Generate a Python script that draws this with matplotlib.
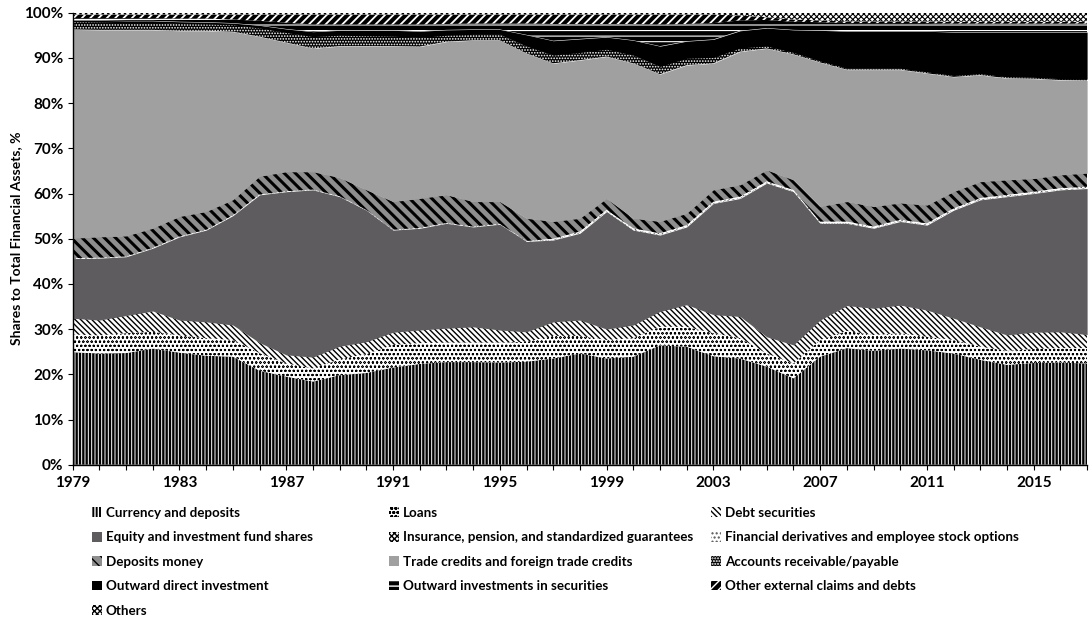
import numpy as np
import matplotlib
matplotlib.use("Agg")
import matplotlib.pyplot as plt
import matplotlib.patches as mpatches

plt.rcParams["font.family"] = ["Lato", "DejaVu Sans"]
plt.rcParams["font.weight"] = "bold"

years = list(range(1979, 2018))
tick_years = list(range(1979, 2016, 4))

# shares in % of total financial assets
currency = [24.9, 24.6, 24.7, 25.7, 24.8, 24.1, 23.9, 20.8, 19.5, 18.4,
            19.8, 20.3, 21.5, 22.3, 22.7, 22.7, 22.6, 22.8, 23.5, 24.6,
            23.5, 23.9, 26.4, 26.1, 24.0, 23.5, 21.7, 19.1, 23.9, 25.8,
            25.2, 25.7, 25.3, 24.6, 23.2, 22.1, 22.5, 22.6, 22.4]
loans = [3.9, 4.0, 4.4, 3.7, 3.8, 3.9, 3.7, 3.9, 2.9, 2.9,
         3.5, 4.2, 5.0, 4.6, 4.3, 4.3, 4.4, 4.4, 5.0, 3.9,
         4.1, 4.1, 4.1, 4.4, 5.1, 4.5, 2.9, 3.3, 3.7, 3.8,
         3.5, 3.4, 3.0, 3.0, 2.9, 3.1, 3.1, 3.2, 3.4]
debt = [3.6, 3.4, 3.9, 4.6, 3.4, 3.6, 3.3, 2.3, 1.9, 2.5,
        2.9, 2.7, 2.8, 2.9, 3.2, 3.5, 2.8, 2.2, 3.1, 3.5,
        2.4, 2.9, 3.4, 4.9, 4.1, 4.8, 3.7, 4.1, 4.4, 5.6,
        5.9, 6.2, 5.9, 4.8, 4.4, 3.5, 3.7, 3.6, 3.0]
equity = [13.2, 13.7, 13.0, 13.9, 18.4, 20.3, 24.2, 32.7, 36.1, 37.0,
          33.1, 29.1, 22.6, 22.5, 23.2, 22.1, 23.4, 20.0, 18.1, 19.2,
          26.0, 21.0, 16.9, 17.2, 24.6, 26.1, 34.0, 33.9, 21.4, 18.2,
          17.7, 18.5, 18.8, 23.9, 28.1, 30.6, 30.7, 31.4, 32.3]
insurance = [0.1, 0.1, 0.1, 0.1, 0.1, 0.1, 0.1, 0.1, 0.1, 0.1,
             0.1, 0.1, 0.1, 0.1, 0.1, 0.1, 0.1, 0.1, 0.1, 0.1,
             0.1, 0.1, 0.1, 0.1, 0.1, 0.1, 0.1, 0.1, 0.1, 0.1,
             0.1, 0.1, 0.1, 0.1, 0.1, 0.1, 0.1, 0.1, 0.1]
derivatives = [0.0, 0.0, 0.0, 0.0, 0.0, 0.0, 0.0, 0.0, 0.0, 0.0,
               0.0, 0.0, 0.0, 0.0, 0.0, 0.0, 0.0, 0.0, 0.2, 0.3,
               0.3, 0.3, 0.3, 0.3, 0.3, 0.3, 0.3, 0.3, 0.3, 0.3,
               0.3, 0.3, 0.3, 0.3, 0.3, 0.3, 0.3, 0.3, 0.3]
deposits_money = [4.4, 4.6, 4.5, 4.3, 4.4, 4.0, 3.4, 4.0, 4.3, 3.9,
                  4.1, 4.4, 6.2, 6.5, 6.2, 5.5, 4.9, 5.0, 3.8, 2.9,
                  2.5, 2.2, 2.6, 2.6, 2.6, 2.6, 2.5, 2.2, 3.3, 4.4,
                  4.4, 3.7, 4.0, 3.7, 3.6, 3.3, 2.9, 2.9, 3.0]
trade_credits = [46.2, 45.8, 45.6, 43.9, 41.1, 40.0, 37.2, 30.9, 28.6, 27.3,
                 29.1, 31.8, 34.4, 33.6, 33.9, 35.7, 35.7, 36.5, 35.0, 35.0,
                 31.4, 34.3, 32.6, 32.8, 28.0, 29.5, 26.9, 27.8, 31.9, 29.2,
                 30.3, 29.5, 29.2, 25.4, 23.6, 22.5, 22.1, 21.0, 20.5]
accounts = [1.7, 1.7, 1.6, 1.6, 1.6, 1.5, 1.5, 1.9, 2.2, 2.6,
            2.4, 2.3, 2.2, 2.0, 1.4, 1.3, 1.3, 1.6, 1.8, 1.7,
            1.6, 1.8, 1.7, 1.5, 1.3, 0.8, 0.5, 0.4, 0.3, 0.3,
            0.3, 0.3, 0.3, 0.3, 0.3, 0.3, 0.3, 0.3, 0.3]
direct_inv = [0.3, 0.4, 0.4, 0.4, 0.4, 0.4, 0.4, 0.6, 0.8, 1.1,
              1.1, 1.2, 1.3, 1.4, 1.2, 1.1, 1.1, 2.5, 3.2, 3.0,
              2.7, 3.3, 4.5, 3.8, 4.0, 3.8, 4.0, 5.0, 6.8, 8.2,
              8.2, 8.2, 9.0, 9.6, 9.2, 9.9, 10.0, 10.3, 10.4]
securities_inv = [0.5, 0.5, 0.6, 0.6, 0.7, 0.8, 0.8, 1.0, 1.4, 1.6,
                  1.3, 1.3, 1.3, 1.5, 1.3, 1.3, 1.3, 2.5, 3.7, 3.3,
                  2.9, 3.6, 4.8, 3.8, 3.6, 2.3, 1.8, 1.8, 1.8, 1.8,
                  1.8, 1.8, 1.8, 1.9, 1.9, 1.9, 1.9, 1.9, 1.9]
other_external = [0.8, 0.8, 0.8, 0.8, 0.9, 0.9, 1.1, 1.4, 1.8, 2.2,
                  2.2, 2.2, 2.2, 2.2, 2.1, 2.0, 2.0, 2.0, 2.1, 2.1,
                  2.1, 2.1, 2.2, 2.1, 1.9, 1.1, 0.6, 0.5, 0.4, 0.4,
                  0.4, 0.4, 0.4, 0.4, 0.4, 0.4, 0.4, 0.4, 0.4]
others = [0.4, 0.4, 0.4, 0.4, 0.4, 0.4, 0.4, 0.4, 0.4, 0.4,
          0.4, 0.4, 0.4, 0.4, 0.4, 0.4, 0.4, 0.4, 0.4, 0.4,
          0.4, 0.4, 0.4, 0.4, 0.4, 0.6, 1.0, 1.5, 1.7, 1.9,
          1.9, 1.9, 1.9, 2.0, 2.0, 2.0, 2.0, 2.0, 2.0]

# (values, label, facecolor, hatch colour, hatch, hatch linewidth)
layers = [
    (currency, "Currency and deposits", "black", "white", "|||||", 0.7),
    (loans, "Loans", "white", "black", "oooo", 0.45),
    (debt, "Debt securities", "white", "black", "\\\\\\\\\\\\", 1.0),
    (equity, "Equity and investment fund shares", "#5e5c5e", "#5e5c5e", None, 0.8),
    (insurance, "Insurance, pension, and standardized guarantees", "white", "black", "xxxxxx", 0.6),
    (derivatives, "Financial derivatives and employee stock options", "white", "#555555", "....", 0.5),
    (deposits_money, "Deposits money", "#8e8e8e", "black", "\\\\\\", 2.2),
    (trade_credits, "Trade credits and foreign trade credits", "#a0a0a0", "#a0a0a0", None, 0.8),
    (accounts, "Accounts receivable/payable", "black", "white", "......", 0.8),
    (direct_inv, "Outward direct investment", "black", "black", None, 0.8),
    (securities_inv, "Outward investments in securities", "black", "white", "---", 0.8),
    (other_external, "Other external claims and debts", "black", "white", "////", 1.3),
    (others, "Others", "white", "black", "xxxxxx", 0.8),
]

W, H = 1090, 619
fig = plt.figure(figsize=(W / 100, H / 100), dpi=100)
ax = fig.add_axes([72.7 / W, 1 - 464.7 / H, 1014.4 / W, 452.0 / H])

x = np.array(years)
bottom = np.zeros(len(years))
handles = []
for values, label, face, hcol, hatch, hlw in layers:
    top = bottom + np.array(values)
    with plt.rc_context({"hatch.linewidth": hlw}):
        coll = ax.fill_between(x, bottom, top, facecolor=face, edgecolor=hcol,
                               hatch=hatch, linewidth=0)
        h = mpatches.Patch(facecolor=face, edgecolor=hcol, hatch=hatch,
                           linewidth=0, label=label)
    if hasattr(coll, "set_hatch_linewidth"):
        coll.set_hatch_linewidth(hlw)
        h.set_hatch_linewidth(hlw)
    handles.append(h)
    bottom = top

ax.set_xlim(1979, 2017)
ax.set_ylim(0, 100)
ax.spines["top"].set_visible(False)
ax.spines["right"].set_visible(False)
ax.spines["left"].set_linewidth(1.0)
ax.spines["bottom"].set_linewidth(1.0)

ax.set_yticks(range(0, 101, 10))
ax.set_yticklabels([f"{v}%" for v in range(0, 101, 10)])
ax.set_xticks(years)
ax.set_xticklabels([str(y) if y in tick_years else "" for y in years])
ax.tick_params(axis="both", direction="out", length=3.6, width=0.8,
               labelsize=11, colors="black")
ax.tick_params(axis="x", pad=4.5)
ax.tick_params(axis="y", pad=3.0)
for t in ax.get_xticklabels() + ax.get_yticklabels():
    t.set_fontweight("bold")

ax.set_ylabel("Shares to Total Financial Assets, %", fontsize=10,
              fontweight="bold")
ax.yaxis.set_label_coords(-51.0 / 1014.4, 0.5)

# legend laid out in three columns like the original
columns = [([0, 3, 6, 9, 12], 92), ([1, 4, 7, 10], 389), ([2, 5, 8, 11], 711)]
for idx, xpx in columns:
    fig.legend([handles[i] for i in idx], [layers[i][1] for i in idx],
               loc="upper left", bbox_to_anchor=(xpx / W, 1 - 507 / H),
               frameon=False, borderpad=0, borderaxespad=0,
               handlelength=0.75, handleheight=0.75, handletextpad=0.3,
               labelspacing=0.93, prop={"size": 9.6, "weight": "bold"})

fig.savefig("out.png", dpi=100)
